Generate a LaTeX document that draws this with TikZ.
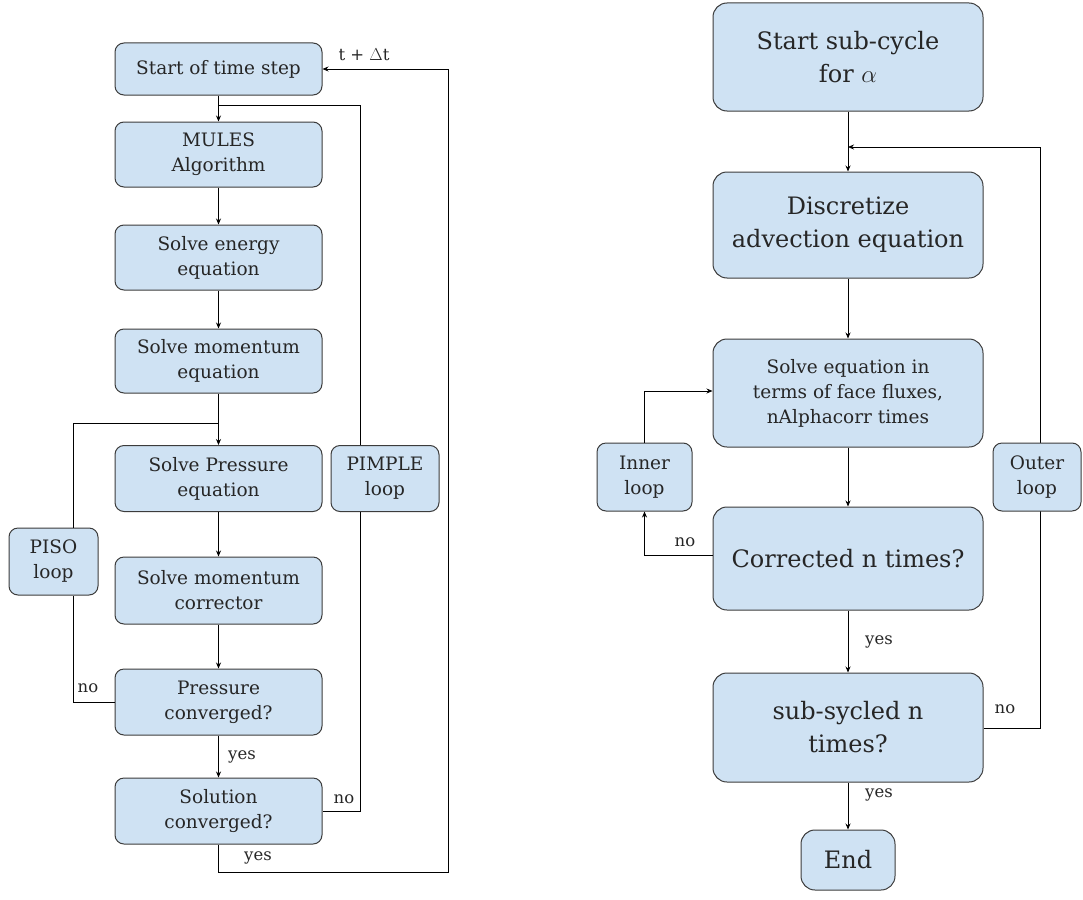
\documentclass[tikz,border=0pt]{standalone}
\usepackage{fontspec}
\setmainfont{DejaVu Serif}
\usetikzlibrary{arrows.meta,positioning,calc}
\definecolor{lblue}{RGB}{207,226,243}
\definecolor{edge}{RGB}{60,60,60}
\tikzset{
  box/.style={draw=edge, fill=lblue, rounded corners=9pt, line width=1pt, align=center, inner sep=0pt, text=black!85},
  sbox/.style={box, font=\fontsize{18.5}{25}\selectfont},
  bbox/.style={box, rounded corners=14pt, font=\fontsize{24}{33}\selectfont},
  mbox/.style={box, rounded corners=14pt, font=\fontsize{18.5}{25}\selectfont},
  line/.style={draw=black, line width=0.8pt},
  arr/.style={line, -{Stealth[length=6pt,width=5pt]}},
  lbl/.style={font=\fontsize{16.5}{19}\selectfont, inner sep=0pt, text=black!85}
}
\begin{document}
\begin{tikzpicture}[x=1pt,y=-1pt]
\useasboundingbox (0,0) rectangle (1083,899);
% ---------- left diagram ----------
\node[sbox, minimum width=207pt, minimum height=52pt] (start) at (218.5,69) {Start of time step};
\node[sbox, minimum width=207pt, minimum height=65pt] (mules) at (218.5,154.5) {MULES\\Algorithm};
\node[sbox, minimum width=207pt, minimum height=65pt] (energy) at (218.5,257.5) {Solve energy\\equation};
\node[sbox, minimum width=207pt, minimum height=64pt] (momentum) at (218.5,361) {Solve momentum\\equation};
\node[sbox, minimum width=207pt, minimum height=66pt] (pressure) at (218.5,478.5) {Solve Pressure\\equation};
\node[sbox, minimum width=108pt, minimum height=66pt] (pimple) at (385,478.5) {PIMPLE\\loop};
\node[sbox, minimum width=207pt, minimum height=67pt] (corrector) at (218.5,590.5) {Solve momentum\\corrector};
\node[sbox, minimum width=207pt, minimum height=66pt] (pconv) at (218.5,702) {Pressure\\converged?};
\node[sbox, minimum width=207pt, minimum height=66pt] (sconv) at (218.5,811) {Solution\\converged?};
\node[sbox, minimum width=89pt, minimum height=67pt] (piso) at (53.5,561.5) {PISO\\loop};

\coordinate (j1) at (218.5,105);
\coordinate (j2) at (218.5,423);
\coordinate (r1) at (448,872);

\draw[arr] (start) -- (mules);
\draw[line] (j1) -| ([xshift=-25pt]pimple.north);
\draw[arr] (mules) -- (energy);
\draw[arr] (energy) -- (momentum);
\draw[arr] (momentum) -- (pressure);
\draw[arr] (pressure) -- (corrector);
\draw[arr] (corrector) -- (pconv);
\draw[arr] (pconv) -- (sconv);
\draw[line] (pconv.west) -| ([xshift=19.5pt]piso.south);
\draw[line] ([xshift=19.5pt]piso.north) |- (j2);
\draw[line] ([xshift=-25pt]pimple.south) |- (sconv.east);
\draw[arr] (sconv.south) |- (r1) |- (start.east);
\node[lbl] (l1) at (242,757) {yes};
\node[lbl] (l2) at (88,688) {no};
\node[lbl] (l3) at (344,799) {no};
\node[lbl] (l4) at (258,858) {yes};
\node[lbl] (dt) at (364,55) {t + $\Delta$t};

% ---------- right diagram ----------
\node[bbox, minimum width=270pt, minimum height=108pt] (sub) at (848,57) {Start sub-cycle\\for $\alpha$};
\node[bbox, minimum width=270pt, minimum height=106pt] (disc) at (848,225) {Discretize\\advection equation};
\node[mbox, minimum width=270pt, minimum height=108pt] (solve) at (848,393) {Solve equation in\\terms of face fluxes,\\nAlphacorr times};
\node[bbox, minimum width=270pt, minimum height=103pt] (corr) at (848,558.5) {Corrected n times?};
\node[bbox, minimum width=270pt, minimum height=109pt] (subs) at (848,727.5) {sub-sycled n\\times?};
\node[bbox, minimum width=94pt, minimum height=60pt] (endn) at (848,860) {End};
\node[sbox, minimum width=95pt, minimum height=68pt] (inner) at (644.5,477) {Inner\\loop};

\coordinate (j3) at (848,147);
\coordinate (o1) at (1040,728);
\coordinate (o2) at (1040,147);
\draw[line] (subs.east |- o1) -- (o1) -- (o2);
\draw[arr] (o2) -- (j3);
\node[sbox, minimum width=88pt, minimum height=68pt] (outer) at (1037,477) {Outer\\loop};

\draw[arr] (sub) -- (disc);
\draw[arr] (disc) -- (solve);
\draw[arr] (solve) -- (corr);
\draw[arr] (corr) -- (subs);
\draw[arr] (subs) -- (endn);
\draw[arr] ([yshift=3pt]corr.west) -| (inner.south);
\draw[arr] (inner.north) |- (solve.west |- 0,391);
\node[lbl] (l5) at (685,542) {no};
\node[lbl] (l6) at (879,642) {yes};
\node[lbl] (l7) at (879,795) {yes};
\node[lbl] (l8) at (1005,709) {no};
\end{tikzpicture}
\end{document}
